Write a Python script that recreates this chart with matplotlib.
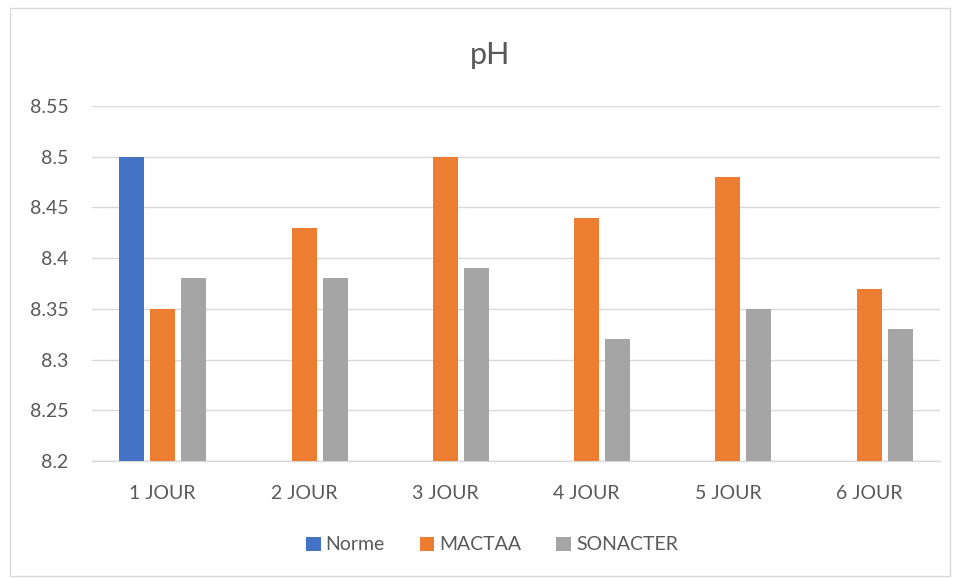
import numpy as np
import matplotlib.pyplot as plt
from matplotlib.patches import Rectangle

plt.rcParams['font.family'] = ['Lato', 'DejaVu Sans']

categories = ["1 JOUR", "2 JOUR", "3 JOUR", "4 JOUR", "5 JOUR", "6 JOUR"]
norme = [8.5, np.nan, np.nan, np.nan, np.nan, np.nan]
mactaa = [8.35, 8.43, 8.5, 8.44, 8.48, 8.37]
sonacter = [8.38, 8.38, 8.39, 8.32, 8.35, 8.33]
series_names = ["Norme", "MACTAA", "SONACTER"]
y_ticks = [8.2, 8.25, 8.3, 8.35, 8.4, 8.45, 8.5, 8.55]
y_labels = ["8.2", "8.25", "8.3", "8.35", "8.4", "8.45", "8.5", "8.55"]

colors = ["#4472C4", "#ED7D31", "#A5A5A5"]
text_color = "#595959"
grid_color = "#D9D9D9"

W, H = 958, 579
fig = plt.figure(figsize=(W / 100, H / 100), dpi=100)
fig.patch.set_facecolor("white")

# chart outline
fig.add_artist(Rectangle((10 / W, 1 - 576 / H), 940 / W, 568 / H,
                         transform=fig.transFigure, fill=False,
                         edgecolor=grid_color, linewidth=1.0))

left, right, top, bottom = 92, 940, 106, 461
ax = fig.add_axes([left / W, 1 - bottom / H, (right - left) / W, (bottom - top) / H])

x = np.arange(len(categories))
cat_px = (right - left) / len(categories)
bar_w = 25 / cat_px
step = 31 / cat_px
for i, (vals, name) in enumerate(zip([norme, mactaa, sonacter], series_names)):
    ax.bar(x + (i - 1) * step, np.array(vals) - 8.2, bottom=8.2, width=bar_w,
           color=colors[i], label=name, zorder=3)

ax.set_xlim(-0.5, len(categories) - 0.5)
ax.set_ylim(8.2, 8.55)
ax.set_yticks(y_ticks)
ax.set_yticklabels(y_labels)
ax.set_xticks(x)
ax.set_xticklabels(categories)
ax.tick_params(axis="both", length=0, colors=text_color, labelsize=14)
ax.tick_params(axis="x", pad=17)
ax.tick_params(axis="y", pad=17)
ax.grid(axis="y", color=grid_color, linewidth=1.0, zorder=0)
for s in ["top", "right", "left"]:
    ax.spines[s].set_visible(False)
ax.spines["bottom"].set_color(grid_color)
ax.spines["bottom"].set_linewidth(1.0)

fig.text(490 / W, 1 - 55 / H, "pH", ha="center", va="center",
         fontsize=22, color=text_color)

fig.legend(loc="center", bbox_to_anchor=(492 / W, 1 - 545 / H), ncol=3,
           frameon=False, fontsize=14, labelcolor=text_color,
           handlelength=0.75, handleheight=0.75, handletextpad=0.25,
           columnspacing=1.8)

fig.savefig("out.png", dpi=100, facecolor="white")
